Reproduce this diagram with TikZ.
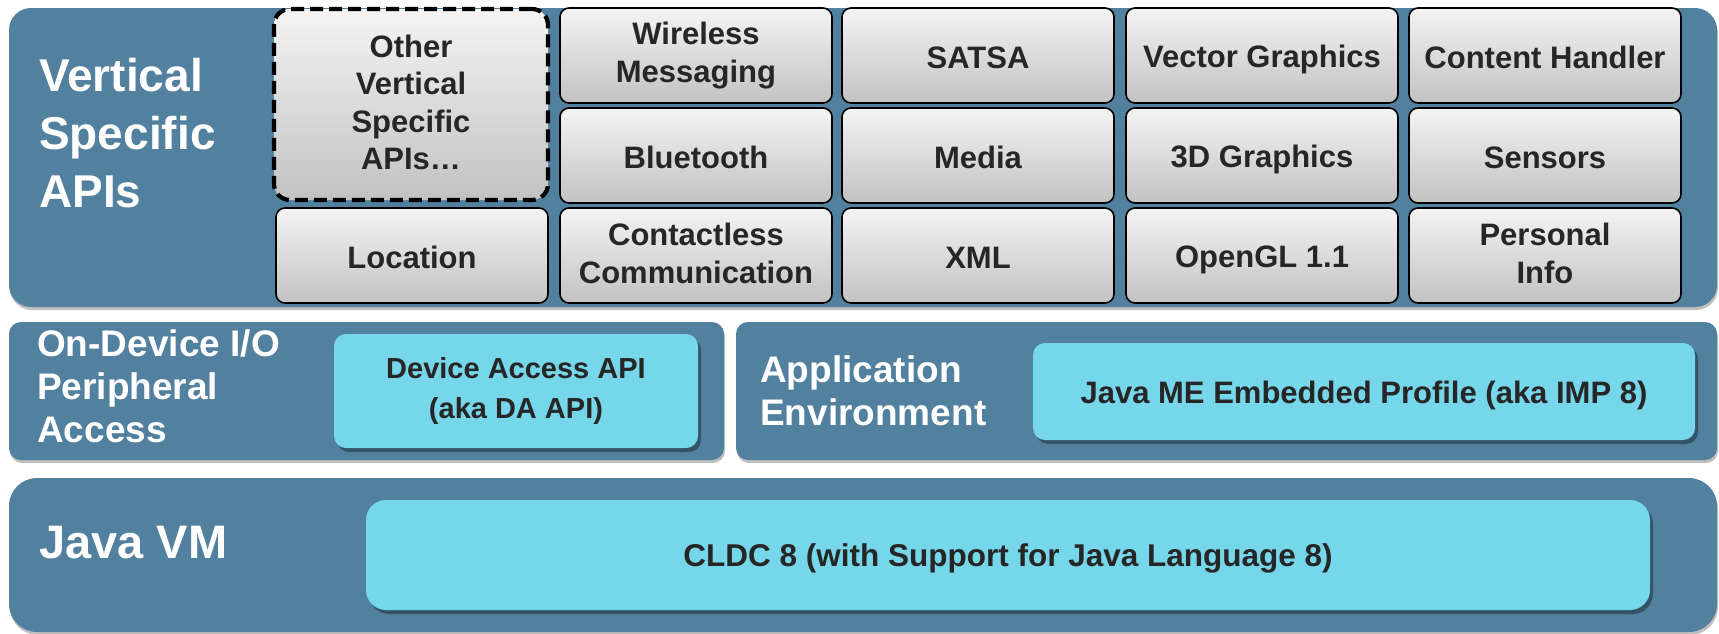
\documentclass[tikz,border=0pt]{standalone}
\usepackage{fontspec}
\setmainfont{Liberation Sans}
\usetikzlibrary{shadows}
\definecolor{panelblue}{HTML}{52809F}
\definecolor{cyanbox}{HTML}{76D6EA}
\definecolor{darktext}{HTML}{262626}
\definecolor{graytop}{HTML}{F4F4F4}
\definecolor{graybot}{HTML}{C2C2C2}
\newcommand{\boxstrut}{\rule[-4pt]{0pt}{34pt}}
\newcommand{\tallstrut}{\rule[-4pt]{0pt}{39pt}}
\newcommand{\tallerstrut}{\rule[-4pt]{0pt}{42pt}}
\tikzset{
  panel/.style={fill=panelblue, draw=none, inner sep=0pt, outer sep=0pt,
    drop shadow={shadow xshift=1pt, shadow yshift=-3pt, opacity=0.25, fill=black}},
  struts/.style={execute at begin node=\boxstrut, execute at end node=\boxstrut},
  apibox/.style={draw=black, line width=1.6pt, rounded corners=9pt, top color=graytop, bottom color=graybot,
    minimum width=272pt, minimum height=95pt, inner sep=0pt, outer sep=0pt, align=center,
    text=darktext, font=\bfseries\fontsize{31}{37.5}\selectfont, struts},
  multi/.style={font=\bfseries\fontsize{31}{38}\selectfont, execute at begin node=\tallstrut},
  otherbox/.style={apibox, line width=4.2pt, dash pattern=on 13pt off 6pt, rounded corners=16pt},
  cyan/.style={fill=cyanbox, draw=none, inner sep=0pt, outer sep=0pt, align=center, text=darktext, struts,
    drop shadow={shadow xshift=3pt, shadow yshift=-4pt, opacity=0.35, fill=black}},
  lbl/.style={anchor=west, align=left, text=white, inner sep=0pt}
}
\begin{document}
\begin{tikzpicture}[x=1pt, y=-1pt]
\useasboundingbox (0,0) rectangle (1719,633);
% panels
\node[panel, rounded corners=22pt, minimum width=1708pt, minimum height=299pt] (vsp) at (863,157.5) {};
\node[panel, rounded corners=12pt, minimum width=715pt, minimum height=138pt] (io) at (366.5,391) {};
\node[panel, rounded corners=12pt, minimum width=981pt, minimum height=138pt] (app) at (1226.5,391) {};
\node[panel, rounded corners=28pt, minimum width=1708pt, minimum height=154pt] (vm) at (863,555) {};
% panel labels
\node[lbl, font=\bfseries\fontsize{46}{58}\selectfont] (vsplbl) at (39,133) {Vertical\\Specific\\APIs};
\node[lbl, font=\bfseries\fontsize{37}{43}\selectfont] (iolbl) at (37,386) {On-Device I/O\\Peripheral\\Access};
\node[lbl, font=\bfseries\fontsize{37}{43}\selectfont] (applbl) at (760,391) {Application\\Environment};
\node[lbl, font=\bfseries\fontsize{47}{56}\selectfont] (vmlbl) at (39,543) {Java VM};
% API grid
\node[otherbox, minimum width=274pt, minimum height=191pt] (other) at (411,104.5) {Other\\Vertical\\Specific\\APIs…};
\node[apibox, multi] (wm) at (696,55.5) {Wireless\\Messaging};
\node[apibox] (satsa) at (978,55.5) {SATSA};
\node[apibox] (vg) at (1262,55.5) {Vector Graphics};
\node[apibox] (ch) at (1545,55.5) {Content Handler};
\node[apibox] (bt) at (696,155.5) {Bluetooth};
\node[apibox] (media) at (978,155.5) {Media};
\node[apibox] (g3d) at (1262,155.5) {3D Graphics};
\node[apibox] (sens) at (1545,155.5) {Sensors};
\node[apibox] (loc) at (412,255.5) {Location};
\node[apibox, multi] (cc) at (696,255.5) {Contactless\\Communication};
\node[apibox] (xml) at (978,255.5) {XML};
\node[apibox] (ogl) at (1262,255.5) {OpenGL 1.1};
\node[apibox, multi] (pi) at (1545,255.5) {Personal\\Info};
% cyan boxes
\node[cyan, rounded corners=12pt, minimum width=364pt, minimum height=114pt, execute at begin node=\tallerstrut,
  font=\bfseries\fontsize{29}{40}\selectfont] (da) at (516,391) {Device Access API\\(aka DA API)};
\node[cyan, rounded corners=12pt, minimum width=662pt, minimum height=97pt,
  font=\bfseries\fontsize{31}{37}\selectfont] (imp) at (1364,391.5) {Java ME Embedded Profile (aka IMP 8)};
\node[cyan, rounded corners=20pt, minimum width=1284pt, minimum height=110pt,
  font=\bfseries\fontsize{31.5}{37}\selectfont] (cldc) at (1008,555) {CLDC 8 (with Support for Java Language 8)};
\end{tikzpicture}
\end{document}
